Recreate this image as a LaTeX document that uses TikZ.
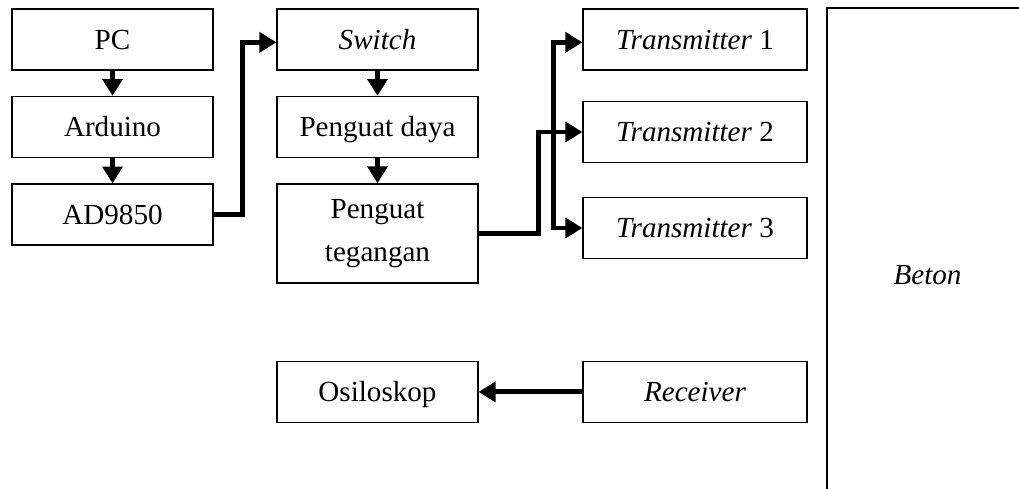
\documentclass[tikz,border=0pt]{standalone}
\usepackage{fontspec}
\setmainfont{Liberation Serif}
\usetikzlibrary{arrows.meta}

\tikzset{
    box/.style={draw, line width=0.9pt, rectangle, minimum height=1.525cm, minimum width=5.025cm, align=center, inner sep=0pt, text height=14pt, text depth=0pt},
    wide/.style={minimum width=5.6cm},
    arr/.style={line width=3.5pt, -{Triangle[length=12pt, width=14pt]}}
}

\begin{document}
\begin{tikzpicture}[node distance=2.1875cm, font=\fontsize{20.7}{23}\selectfont]

    \clip (-2.8125,0.9875) rectangle (22.6625,-11.2125);

    % Nodes
    \node[box] (pc) at (0,0) {PC};
    \node[box] (ard) [below of=pc] {Arduino};
    \node[box] (ad) [below of=ard] {AD9850};

    \node[box] (sw) [right of=pc, node distance=6.625cm] {\textit{Switch}};
    \node[box] (pd) [below of=sw] {Penguat daya};
    \node[box, minimum height=2.475cm, text height=, text depth=, font=\fontsize{20.7}{31}\selectfont] (pt) [below of=pd, node distance=2.66cm] {Penguat\\tegangan};

    \node[box, wide] (t1) [right of=sw, node distance=7.9375cm] {\textit{Transmitter} 1};
    \node[box, wide] (t2) [below of=t1, node distance=2.3125cm] {\textit{Transmitter} 2};
    \node[box, wide] (t3) [below of=t2, node distance=2.4cm] {\textit{Transmitter} 3};

    \node[box] (osc) [below of=pt, node distance=3.9625cm] {Osiloskop};
    \node[box, wide] (rx) [right of=osc, node distance=7.9375cm] {\textit{Receiver}};

    \node[box, minimum height=13.35cm] (beton) at (20.375,-5.8875) {\textit{Beton}};

    % Arrows
    \draw[arr] (pc) -- (ard);
    \draw[arr] (ard) -- (ad);
    \draw[arr] (ad.east) -- ++(0.725,0) |- ([yshift=-2pt]sw.west);

    \draw[arr] (sw) -- (pd);
    \draw[arr] (pd) -- (pt);

    \draw[arr] (pt.east) -- ++(1.5,0) |- (t2.west);
    \path (pt.east) ++(1.875,0) coordinate (split);
    \coordinate (jn) at (split |- t2.west);
    \draw[arr] (jn) |- ([yshift=-2pt]t1.west);
    \draw[arr] (jn) |- (t3.west);

    \draw[arr] (rx) -- (osc);

\end{tikzpicture}
\end{document}
